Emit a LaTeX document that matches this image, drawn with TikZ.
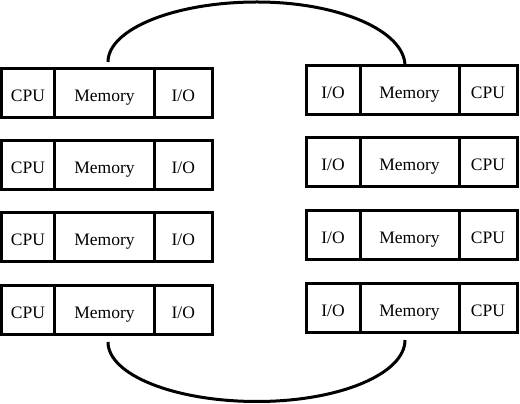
\documentclass[tikz,border=0pt]{standalone}
\usepackage{fontspec}
\setmainfont{Liberation Serif}
\begin{document}
\begin{tikzpicture}[x=1pt,y=1pt,
  cell/.style={draw,line width=3pt,rectangle,inner sep=0pt,outer sep=0pt,
    minimum height=49pt,text height=16.2pt,text depth=0pt,
    font=\fontsize{17.5}{20}\selectfont},
  cpuL/.style={cell,minimum width=53pt},
  memL/.style={cell,minimum width=100pt},
  ioL/.style={cell,minimum width=57.5pt},
  ioR/.style={cell,minimum width=54pt},
  memR/.style={cell,minimum width=99pt},
  cpuR/.style={cell,minimum width=58pt},
  bus/.style={line width=3pt}]
\useasboundingbox (0,0) rectangle (520,404);
% left column
\foreach \r/\y in {1/310.5,2/238.5,3/166.5,4/93.5}{
  \node[cpuL] (L\r c) at (28,\y) {CPU};
  \node[memL] (L\r m) at (104.5,\y) {Memory};
  \node[ioL]  (L\r i) at (183.25,\y) {I/O};
}
% right column
\foreach \r/\y in {1/313.5,2/241.5,3/168.5,4/95.5}{
  \node[ioR]  (R\r i) at (333,\y) {I/O};
  \node[memR] (R\r m) at (409.5,\y) {Memory};
  \node[cpuR] (R\r c) at (488,\y) {CPU};
}
% bus end points
\coordinate (ta) at ([shift={(3.5,7)}]L1m.north);
\coordinate (tb) at ([shift={(-4.5,0)}]R1m.north);
\coordinate (ba) at ([shift={(3.5,-7)}]L4m.south);
\coordinate (bb) at ([shift={(-4.5,-7)}]R4m.south);
\coordinate (tp) at (257,402);
\coordinate (bp) at (257,2.5);
% top bus
\draw[bus] (ta) .. controls ([yshift=33pt]ta) and (175,402) .. (tp)
  .. controls (339,402) and ([yshift=35pt]tb) .. (tb);
% bottom bus
\draw[bus] (ba) .. controls ([yshift=-33pt]ba) and (175,2.5) .. (bp)
  .. controls (339,2.5) and ([yshift=-34pt]bb) .. (bb);
\end{tikzpicture}
\end{document}
